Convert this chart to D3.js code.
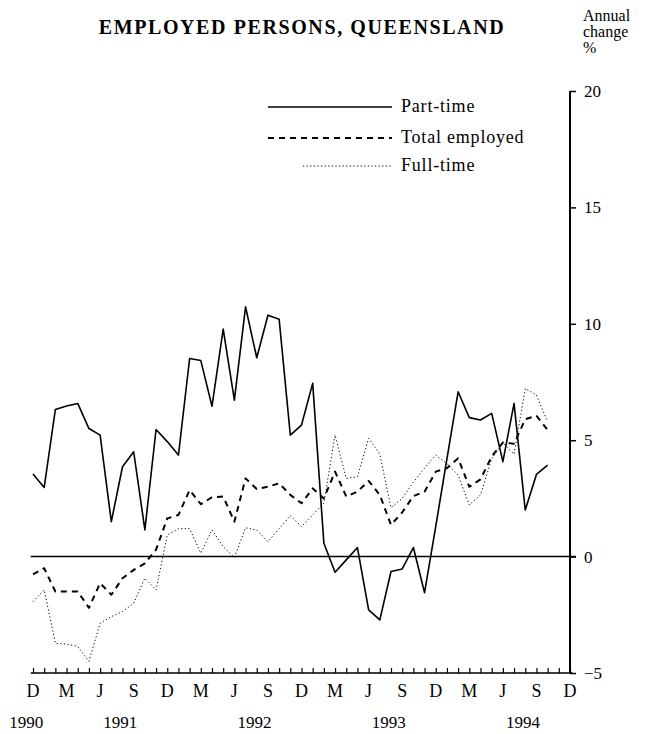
<!DOCTYPE html>
<html>
<head>
<meta charset="utf-8">
<script src="https://cdn.jsdelivr.net/npm/d3@7"></script>
<style>
  body { margin: 0; background: #fff; }
  text { font-family: "Liberation Serif", "DejaVu Serif", serif; fill: #000; }
</style>
</head>
<body>
<div id="viz"></div>
<script>
// monthly annual % change, Dec 1990 .. Oct 1994
const partTime = [3.55, 2.97, 6.32, 6.47, 6.58, 5.5, 5.22, 1.5, 3.86, 4.5, 1.15, 5.46,
  4.94, 4.36, 8.51, 8.42, 6.46, 9.77, 6.72, 10.73, 8.54, 10.37, 10.2, 5.22,
  5.65, 7.44, 0.57, -0.67, -0.14, 0.39, -2.29, -2.72, -0.64, -0.53, 0.39, -1.55,
  1.3, 4.2, 7.08, 5.97, 5.87, 6.15, 4.08, 6.58, 2.0, 3.53, 3.93];
const totalEmployed = [-0.76, -0.5, -1.5, -1.5, -1.5, -2.2, -1.14, -1.64, -0.93, -0.57, -0.29, 0.3,
  1.64, 1.79, 2.86, 2.25, 2.55, 2.58, 1.5, 3.36, 2.9, 3.0, 3.15, 2.65,
  2.29, 2.93, 2.5, 3.65, 2.58, 2.79, 3.25, 2.65, 1.36, 1.9, 2.6, 2.79,
  3.65, 3.8, 4.22, 3.0, 3.32, 4.3, 4.9, 4.85, 5.9, 6.05, 5.44];
const fullTime = [-1.93, -1.43, -3.72, -3.76, -3.86, -4.5, -2.86, -2.58, -2.36, -2.0, -0.93, -1.43,
  0.93, 1.2, 1.2, 0.15, 1.15, 0.43, -0.04, 1.24, 1.14, 0.64, 1.2, 1.76,
  1.29, 1.79, 2.3, 5.22, 3.36, 3.43, 5.08, 4.4, 2.1, 2.5, 3.2, 3.8,
  4.36, 4.0, 3.5, 2.22, 2.65, 4.2, 4.9, 4.4, 7.22, 6.94, 5.79];

const monthLabels = ['D', 'M', 'J', 'S'];
const yearLabels = ['1990', '1991', '1992', '1993', '1994'];
const yTicks = [-5, 0, 5, 10, 15, 20];
const seriesNames = ['Part-time', 'Total employed', 'Full-time'];

const width = 669, height = 734;
const svg = d3.select('#viz').append('svg')
  .attr('width', width)
  .attr('height', height);

const x = d3.scaleLinear().domain([0, 48]).range([33, 570]);
const y = d3.scaleLinear().domain([-5, 20]).range([673, 91]);

// title and unit label
svg.append('text')
  .attr('x', 302).attr('y', 34)
  .attr('text-anchor', 'middle')
  .style('font-size', '20px')
  .style('font-weight', 'bold')
  .style('letter-spacing', '1.6px')
  .text('EMPLOYED PERSONS, QUEENSLAND');

['Annual', 'change', '%'].forEach((t, i) => {
  svg.append('text')
    .attr('x', 583).attr('y', 21 + i * 16)
    .style('font-size', '16px')
    .text(t);
});

// right axis
const yAxis = svg.append('g')
  .attr('transform', `translate(${x(48)},0)`)
  .call(d3.axisRight(y).tickValues(yTicks).tickSize(6).tickPadding(8).tickFormat(d3.format('d')));
yAxis.select('.domain').attr('stroke-width', 2).attr('d', `M0,${y(20)}V${y(-5)}`);
yAxis.selectAll('.tick line').attr('stroke-width', 1.5);
yAxis.selectAll('.tick text')
  .style('font-family', '"Liberation Serif", serif')
  .style('font-size', '17px')
  .attr('text-anchor', 'start');

// bottom axis, monthly ticks pointing up
const xAxis = svg.append('g')
  .attr('transform', `translate(0,${y(-5)})`)
  .call(d3.axisBottom(x).tickValues(d3.range(0, 49)).tickSize(-5).tickFormat(''));
xAxis.select('.domain').attr('stroke-width', 1.5).attr('d', `M${x(-0.2)},0H${x(48.2)}`);
xAxis.selectAll('.tick line').attr('stroke-width', 1.2);

svg.append('g').selectAll('text')
  .data(d3.range(0, 49, 3))
  .join('text')
  .attr('x', d => x(d))
  .attr('y', 697)
  .attr('text-anchor', 'middle')
  .style('font-size', '18px')
  .text(d => monthLabels[(d / 3) % 4]);

svg.append('g').selectAll('text')
  .data(yearLabels)
  .join('text')
  .attr('x', (d, i) => i === 0 ? x(-0.6) : x(7.8 + (i - 1) * 12))
  .attr('y', 728)
  .attr('text-anchor', 'middle')
  .style('font-size', '17px')
  .text(d => d);

// zero line
svg.append('line')
  .attr('x1', x(-0.2)).attr('x2', x(48) + 6)
  .attr('y1', y(0)).attr('y2', y(0))
  .attr('stroke', '#000').attr('stroke-width', 1.5);

const line = d3.line().x((d, i) => x(i)).y(d => y(d));
const styles = [
  {data: partTime, width: 1.6, dash: null},
  {data: totalEmployed, width: 2, dash: '6,5'},
  {data: fullTime, width: 1, dash: '1.2,2.4'}
];

svg.append('g').selectAll('path')
  .data(styles)
  .join('path')
  .attr('d', d => line(d.data))
  .attr('fill', 'none')
  .attr('stroke', '#000')
  .attr('stroke-width', d => d.width)
  .attr('stroke-dasharray', d => d.dash)
  .attr('stroke-linejoin', 'round');

// legend
const legend = svg.append('g');
const legY = [107, 138, 166];
const legX1 = [268, 268, 303];
styles.forEach((s, i) => {
  legend.append('line')
    .attr('x1', legX1[i]).attr('x2', 392)
    .attr('y1', legY[i]).attr('y2', legY[i])
    .attr('stroke', '#000')
    .attr('stroke-width', s.width)
    .attr('stroke-dasharray', s.dash);
  legend.append('text')
    .attr('x', 401).attr('y', legY[i] + 5)
    .style('font-size', '18px')
    .style('letter-spacing', '0.8px')
    .text(seriesNames[i]);
});
</script>
</body>
</html>
